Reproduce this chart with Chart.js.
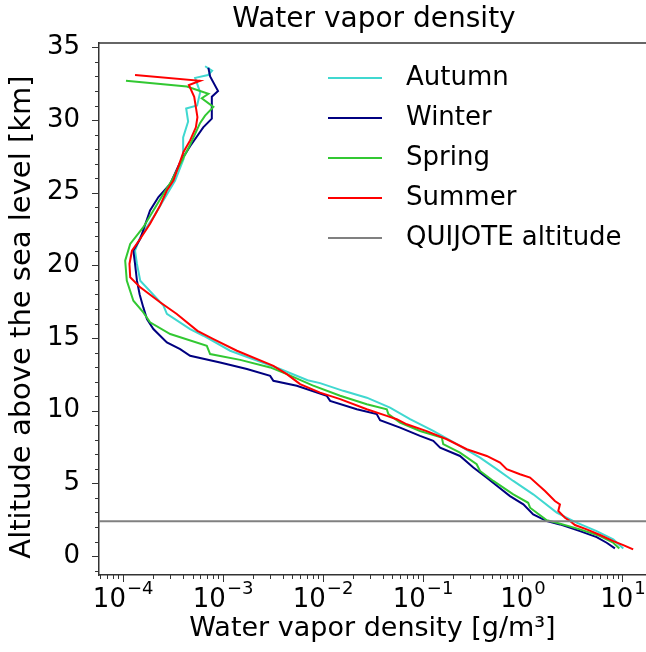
<!DOCTYPE html>
<html>
<head>
<meta charset="utf-8">
<script src="https://cdn.jsdelivr.net/npm/chart.js@4"></script>
<style>
    html, body { margin: 0; padding: 0; background: #fff; }
    #wrap { width: 646px; height: 652px; }
</style>
</head>
<body>
<div id="wrap"><canvas id="chart" width="646" height="652"></canvas></div>
<script>
// altitude [km] and water vapor density [g/m3]
const autumnAlt = [0.53, 1.15, 1.72, 2.3, 2.53, 2.99, 4.25, 5.17, 5.98, 6.77, 7.7, 8.61, 9.42, 10.22, 10.9, 11.37, 11.9, 12.1, 12.87, 14.13, 15.16, 15.62, 16.66, 17.23, 18.95, 20.1, 21.02, 21.94, 23.32, 25.84, 27.3, 28.8, 29.9, 30.8, 31.0, 31.9, 32.9, 33.1, 33.4, 33.7];
const autumnRho = [10.2, 8.09, 5.52, 3.48, 2.99, 2.20, 1.28, 0.809, 0.552, 0.376, 0.220, 0.128, 0.0750, 0.0473, 0.0277, 0.0161, 0.00944, 0.00708, 0.00376, 0.00119, 6.43e-4, 4.73e-4, 2.77e-4, 2.56e-4, 1.50e-4, 1.39e-4, 1.33e-4, 1.50e-4, 2.03e-4, 3.35e-4, 4.06e-4, 4.03e-4, 4.52e-4, 4.32e-4, 5.56e-4, 5.96e-4, 5.31e-4, 7.16e-4, 7.85e-4, 6.68e-4];

const winterAlt = [0.53, 0.92, 1.31, 1.72, 2.18, 2.41, 2.87, 3.56, 4.13, 4.8, 5.4, 6.09, 6.89, 7.46, 7.93, 8.27, 8.84, 9.35, 9.77, 10.1, 10.68, 11.03, 11.72, 12.06, 12.4, 12.87, 13.32, 13.78, 14.24, 14.7, 15.62, 16.31, 17.11, 18.0, 18.95, 20.1, 21.02, 21.83, 23.78, 24.7, 25.6, 27.1, 28.2, 29.5, 30.1, 31.6, 32.0, 33.0, 33.6];
const winterRho = [8.41, 6.95, 5.52, 3.76, 2.37, 1.75, 1.28, 1.02, 0.750, 0.562, 0.439, 0.322, 0.237, 0.150, 0.128, 0.0944, 0.0596, 0.0376, 0.0348, 0.0220, 0.0119, 0.0110, 0.00552, 0.00322, 0.00299, 0.00175, 9.44e-4, 4.73e-4, 3.76e-4, 2.77e-4, 2.03e-4, 1.75e-4, 1.61e-4, 1.48e-4, 1.39e-4, 1.33e-4, 1.28e-4, 1.50e-4, 1.88e-4, 2.28e-4, 2.99e-4, 3.76e-4, 4.73e-4, 6.4e-4, 7.8e-4, 7.8e-4, 9.0e-4, 7.5e-4, 7.2e-4];

const springAlt = [0.53, 0.92, 1.38, 1.84, 2.3, 2.46, 3.33, 3.67, 4.25, 5.17, 5.86, 6.32, 7.12, 7.7, 8.15, 8.61, 9.19, 9.77, 10.1, 10.45, 11.03, 11.75, 12.52, 12.98, 13.5, 13.9, 14.47, 15.28, 16.08, 16.77, 17.57, 18.95, 20.33, 21.48, 22.63, 23.78, 24.93, 25.84, 28.3, 29.8, 30.3, 30.9, 31.5, 31.8, 32.3, 32.7];
const springRho = [9.3, 8.09, 5.96, 3.76, 2.20, 1.75, 1.19, 1.14, 0.809, 0.511, 0.376, 0.348, 0.237, 0.161, 0.156, 0.0944, 0.0596, 0.0455, 0.0439, 0.0277, 0.0150, 0.00794, 0.00439, 0.00299, 0.0015, 7.50e-4, 6.95e-4, 2.99e-4, 1.88e-4, 1.61e-4, 1.28e-4, 1.10e-4, 1.06e-4, 1.19e-4, 1.61e-4, 2.03e-4, 2.56e-4, 3.10e-4, 4.73e-4, 5.96e-4, 6.68e-4, 8.09e-4, 6.19e-4, 7.21e-4, 4.39e-4, 1.08e-4];

const summerAlt = [0.46, 0.76, 1.03, 1.45, 1.84, 2.14, 2.41, 2.64, 3.1, 3.56, 3.79, 4.48, 5.4, 5.63, 5.98, 6.43, 6.89, 7.35, 8.04, 8.6, 9.07, 9.42, 9.65, 10.1, 10.8, 11.25, 11.83, 12.52, 13.09, 14.13, 14.93, 15.5, 16.66, 17.46, 18.49, 19.18, 20.1, 21.02, 21.83, 22.86, 24.12, 25.15, 25.84, 27.8, 28.6, 29.5, 30.2, 31.6, 32.4, 32.7, 33.1];
const summerRho = [12.8, 10.2, 8.09, 5.96, 4.39, 3.35, 2.99, 2.66, 2.28, 2.37, 2.11, 1.68, 1.19, 0.944, 0.695, 0.596, 0.439, 0.277, 0.175, 0.110, 0.0695, 0.0552, 0.0439, 0.0277, 0.0150, 0.00944, 0.00596, 0.00439, 0.00322, 0.00139, 8.09e-4, 5.6e-4, 3.48e-4, 2.37e-4, 1.50e-4, 1.19e-4, 1.17e-4, 1.24e-4, 1.50e-4, 1.88e-4, 2.37e-4, 2.77e-4, 3.22e-4, 4.06e-4, 4.73e-4, 5.4e-4, 5.6e-4, 5.2e-4, 4.6e-4, 5.96e-4, 1.33e-4];

const quijoteAlt = 2.4;

const seasons = ['Autumn', 'Winter', 'Spring', 'Summer'];
const colors = ['#40d8d0', '#000080', '#32c832', '#ff0000'];

// tick labels
const xExponents = [-4, -3, -2, -1, 0, 1];
const yTicks = [0, 5, 10, 15, 20, 25, 30, 35];

const xMin = 5.8e-5, xMax = 17.2;
const yMin = -1.3, yMax = 35.3;

const FONT = '"DejaVu Sans", sans-serif';
const FS = 26;

const toPoints = (alt, rho) => alt.map((a, i) => ({x: rho[i], y: a}));

const mkLine = (label, points, color, order) => ({
    label: label,
    data: points,
    borderColor: color,
    backgroundColor: color,
    borderWidth: 2,
    pointRadius: 0,
    showLine: true,
    fill: false,
    tension: 0,
    order: order
});

// spines, ticks, titles and legend in matplotlib style
const framePlugin = {
    id: 'frame',
    afterDraw(chart) {
        const ctx = chart.ctx;
        const {left, right, top, bottom} = chart.chartArea;
        const xs = chart.scales.x, ys = chart.scales.y;
        ctx.save();
        ctx.strokeStyle = '#333';
        ctx.lineWidth = 1.5;
        ctx.beginPath();
        ctx.moveTo(left, top);
        ctx.lineTo(right, top);
        ctx.stroke();

        // x ticks
        ctx.lineWidth = 1;
        ctx.beginPath();
        for (let e = -5; e <= 1; e++) {
            for (let m = 1; m <= 9; m++) {
                const v = m * Math.pow(10, e);
                if (v < xMin || v > xMax) continue;
                const px = Math.round(xs.getPixelForValue(v)) + 0.5;
                ctx.moveTo(px, bottom);
                ctx.lineTo(px, bottom + (m === 1 ? 7 : 4));
            }
        }
        // y ticks
        for (let v = Math.ceil(yMin); v <= yMax; v++) {
            const py = Math.round(ys.getPixelForValue(v)) + 0.5;
            ctx.moveTo(left, py);
            ctx.lineTo(left - (v % 5 === 0 ? 7 : 4), py);
        }
        ctx.stroke();

        // x tick labels 10^n
        ctx.fillStyle = '#000';
        ctx.textBaseline = 'alphabetic';
        ctx.textAlign = 'left';
        xExponents.forEach(e => {
            const px = xs.getPixelForValue(Math.pow(10, e));
            const base = '10';
            const ex = String(e).replace('-', '\u2212');
            ctx.font = FS + 'px ' + FONT;
            const wb = ctx.measureText(base).width;
            ctx.font = '18px ' + FONT;
            const we = ctx.measureText(ex).width;
            const x0 = px - (wb + we) / 2;
            ctx.font = FS + 'px ' + FONT;
            ctx.fillText(base, x0, bottom + 32);
            ctx.font = '18px ' + FONT;
            ctx.fillText(ex, x0 + wb + 1, bottom + 19);
        });

        // title
        ctx.font = '28px ' + FONT;
        ctx.textAlign = 'center';
        ctx.textBaseline = 'middle';
        ctx.fillText('Water vapor density', (left + 649) / 2, 20);

        // y axis title
        ctx.save();
        ctx.translate(22, 317);
        ctx.rotate(-Math.PI / 2);
        ctx.font = '29px ' + FONT;
        ctx.fillText('Altitude above the sea level [km]', 0, 0);
        ctx.restore();

        // legend
        const labels = seasons.concat(['QUIJOTE altitude']);
        const cols = colors.concat(['#808080']);
        ctx.font = FS + 'px ' + FONT;
        ctx.textAlign = 'left';
        labels.forEach((lab, i) => {
            const y = top + 35 + i * 40;
            ctx.strokeStyle = cols[i];
            ctx.lineWidth = 2;
            ctx.beginPath();
            ctx.moveTo(left + 229, y);
            ctx.lineTo(left + 283, y);
            ctx.stroke();
            ctx.fillText(lab, left + 307, y);
        });
        ctx.restore();
    }
};

const ctx = document.getElementById('chart').getContext('2d');
new Chart(ctx, {
    type: 'scatter',
    data: {
        datasets: [
            mkLine('Autumn', toPoints(autumnAlt, autumnRho), colors[0], 4),
            mkLine('Winter', toPoints(winterAlt, winterRho), colors[1], 3),
            mkLine('Spring', toPoints(springAlt, springRho), colors[2], 2),
            mkLine('Summer', toPoints(summerAlt, summerRho), colors[3], 1),
            mkLine('QUIJOTE altitude', [{x: xMin, y: quijoteAlt}, {x: xMax, y: quijoteAlt}], '#808080', 0)
        ]
    },
    options: {
        responsive: false,
        animation: false,
        layout: {padding: {left: 0, right: 0, top: 43, bottom: 0}},
        plugins: {
            legend: {display: false},
            tooltip: {enabled: false},
            title: {display: false}
        },
        scales: {
            x: {
                type: 'logarithmic',
                min: xMin,
                max: xMax,
                border: {display: true, color: '#333', width: 1.5},
                grid: {display: false},
                ticks: {display: false},
                title: {
                    display: true,
                    text: 'Water vapor density [g/m³]',
                    color: '#000',
                    font: {family: FONT, size: 27},
                    padding: {top: 0, bottom: 7}
                },
                afterFit: s => { s.height = 77; }
            },
            y: {
                type: 'linear',
                min: yMin,
                max: yMax,
                border: {display: true, color: '#333', width: 1.5},
                grid: {display: false},
                afterBuildTicks: axis => {
                    axis.ticks = yTicks.map(v => ({value: v}));
                },
                ticks: {
                    autoSkip: false,
                    padding: 11,
                    color: '#000',
                    font: {family: FONT, size: FS},
                    callback: v => String(v)
                },
                title: {display: false},
                afterFit: s => { s.width = 99; }
            }
        }
    },
    plugins: [framePlugin]
});
</script>
</body>
</html>
